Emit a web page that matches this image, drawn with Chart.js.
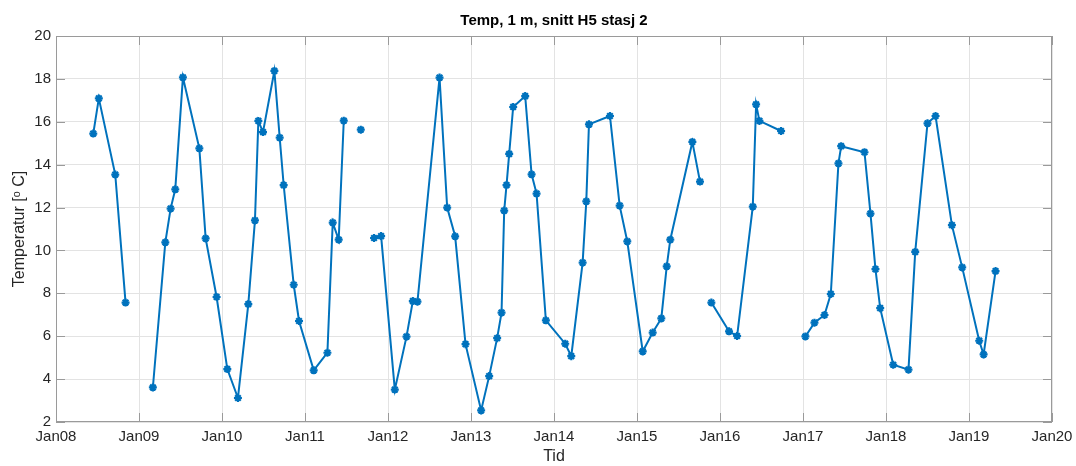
<!DOCTYPE html>
<html>
<head>
<meta charset="utf-8">
<script src="https://cdn.jsdelivr.net/npm/chart.js@4/dist/chart.umd.min.js"></script>
<style>
  html, body { margin: 0; padding: 0; background: #fff; }
  #wrap { width: 1076px; height: 466px; }
</style>
</head>
<body>
<div id="wrap"><canvas id="tempChart" width="1076" height="466"></canvas></div>
<script>
// Temperatur 1 m, snitt H5 stasjon 2 (tid i desimalår, null = brudd i linja)
const tid = [
  2008.449, 2008.516, 2008.714, 2008.838, null,
  2009.167, 2009.317, 2009.381, 2009.437, 2009.529, 2009.727, 2009.803, 2009.935,
  2010.064, 2010.192, 2010.317, 2010.397, 2010.438, 2010.494, 2010.631, 2010.695,
  2010.743, 2010.864, 2010.928, 2011.105, 2011.270, 2011.334, 2011.406, 2011.467, null,
  2011.672, null,
  2011.832, 2011.917, 2012.082, 2012.223, 2012.299, 2012.355, 2012.621, 2012.713,
  2012.809, 2012.934, 2013.122, 2013.219, 2013.315, 2013.368, 2013.400, 2013.428,
  2013.460, 2013.508, 2013.653, 2013.730, 2013.790, 2013.902, 2014.135, 2014.208,
  2014.345, 2014.389, 2014.421, 2014.674, 2014.791, 2014.883,
  2015.069, 2015.189, 2015.293, 2015.358, 2015.401, 2015.667, 2015.759, null,
  2015.896, 2016.109, 2016.206, 2016.395, 2016.435, 2016.475, 2016.736, null,
  2017.029, 2017.138, 2017.259, 2017.335, 2017.427, 2017.460, 2017.741, 2017.813,
  2017.873, 2017.930, 2018.087, 2018.271, 2018.352, 2018.500, 2018.597, 2018.794,
  2018.918, 2019.123, 2019.176, 2019.320
];
const temp = [
  15.45, 17.09, 13.54, 7.57, null,
  3.61, 10.38, 11.95, 12.85, 18.07, 14.76, 10.56, 7.83,
  4.47, 3.12, 7.50, 11.40, 16.04, 15.52, 18.37, 15.26,
  13.05, 8.40, 6.71, 4.41, 5.23, 11.30, 10.50, 16.05, null,
  15.63, null,
  10.58, 10.67, 3.51, 5.98, 7.64, 7.61, 18.06, 12.00,
  10.66, 5.63, 2.54, 4.14, 5.91, 7.10, 11.86, 13.05,
  14.50, 16.69, 17.20, 13.55, 12.65, 6.74, 5.65, 5.07,
  9.43, 12.29, 15.88, 16.27, 12.09, 10.42,
  5.29, 6.17, 6.83, 9.26, 10.50, 15.06, 13.21, null,
  7.57, 6.23, 6.01, 12.04, 16.81, 16.04, 15.57, null,
  5.99, 6.63, 6.99, 7.97, 14.06, 14.86, 14.58, 11.72,
  9.13, 7.31, 4.67, 4.44, 9.93, 15.93, 16.27, 11.18,
  9.21, 5.79, 5.15, 9.04
];
const xTickLabels = ['Jan08', 'Jan09', 'Jan10', 'Jan11', 'Jan12', 'Jan13', 'Jan14',
                     'Jan15', 'Jan16', 'Jan17', 'Jan18', 'Jan19', 'Jan20'];
const yTicks = [2, 4, 6, 8, 10, 12, 14, 16, 18, 20];

const FONT = '"Liberation Sans", Helvetica, Arial, sans-serif';
const AX_COLOR = '#262626';
const BOX_COLOR = '#9a9a9a';

// MATLAB-aktig boks med innoverrettede tikk paa alle fire sider + tittel
const boxPlugin = {
  id: 'boxPlugin',
  afterDraw(chart) {
    const { ctx, chartArea: a, scales } = chart;
    const len = 9;
    ctx.save();
    ctx.strokeStyle = BOX_COLOR;
    ctx.lineWidth = 1;
    ctx.strokeRect(a.left + 0.5, a.top + 0.5, a.right - a.left - 1, a.bottom - a.top - 1);
    ctx.beginPath();
    scales.x.ticks.forEach(t => {
      const px = Math.round(scales.x.getPixelForValue(t.value)) + 0.5;
      ctx.moveTo(px, a.bottom); ctx.lineTo(px, a.bottom - len);
      ctx.moveTo(px, a.top); ctx.lineTo(px, a.top + len);
    });
    scales.y.ticks.forEach(t => {
      const py = Math.round(scales.y.getPixelForValue(t.value)) + 0.5;
      ctx.moveTo(a.left, py); ctx.lineTo(a.left + len, py);
      ctx.moveTo(a.right, py); ctx.lineTo(a.right - len, py);
    });
    ctx.stroke();

    ctx.fillStyle = '#000';
    ctx.font = 'bold 15px ' + FONT;
    ctx.textAlign = 'center';
    ctx.textBaseline = 'middle';
    ctx.fillText('Temp, 1 m, snitt H5 stasj 2', (a.left + a.right) / 2, 21);
    ctx.restore();
  }
};

const ctx = document.getElementById('tempChart').getContext('2d');
new Chart(ctx, {
  type: 'line',
  data: {
    datasets: [{
      label: 'Temp 1 m',
      data: tid.map((t, i) => ({ x: t, y: temp[i] })),
      borderColor: '#0072BD',
      backgroundColor: '#0072BD',
      borderWidth: 2,
      pointStyle: 'star',
      pointRadius: 4,
      pointBorderWidth: 2.2,
      pointHoverRadius: 4,
      spanGaps: false,
      tension: 0
    }]
  },
  options: {
    responsive: false,
    animation: false,
    layout: { padding: { left: 0, right: 24, top: 36, bottom: 0 } },
    plugins: {
      legend: { display: false },
      tooltip: { enabled: false },
      title: { display: false }
    },
    scales: {
      x: {
        type: 'linear',
        min: 2008,
        max: 2020,
        afterBuildTicks: s => { s.ticks = xTickLabels.map((_, i) => ({ value: 2008 + i })); },
        afterFit: s => { s.height = 44; s.paddingLeft = 0; s.paddingRight = 0; },
        ticks: {
          autoSkip: false,
          maxRotation: 0,
          padding: 6,
          color: AX_COLOR,
          font: { family: FONT, size: 15 },
          callback: (v) => xTickLabels[Math.round(v) - 2008]
        },
        grid: { color: '#e3e3e3', drawTicks: false },
        border: { display: false },
        title: {
          display: true,
          text: 'Tid',
          color: AX_COLOR,
          font: { family: FONT, size: 16 },
          padding: { top: 0, bottom: 0 }
        }
      },
      y: {
        min: 2,
        max: 20,
        afterBuildTicks: s => { s.ticks = yTicks.map(v => ({ value: v })); },
        afterFit: s => { s.width = 56; },
        ticks: {
          padding: 5,
          color: AX_COLOR,
          font: { family: FONT, size: 15 }
        },
        grid: { color: '#e3e3e3', drawTicks: false },
        border: { display: false },
        title: {
          display: true,
          text: 'Temperatur [ᵒ C]',
          color: AX_COLOR,
          font: { family: FONT, size: 16 },
          padding: { top: 10, bottom: 0 }
        }
      }
    }
  },
  plugins: [boxPlugin]
});
</script>
</body>
</html>
